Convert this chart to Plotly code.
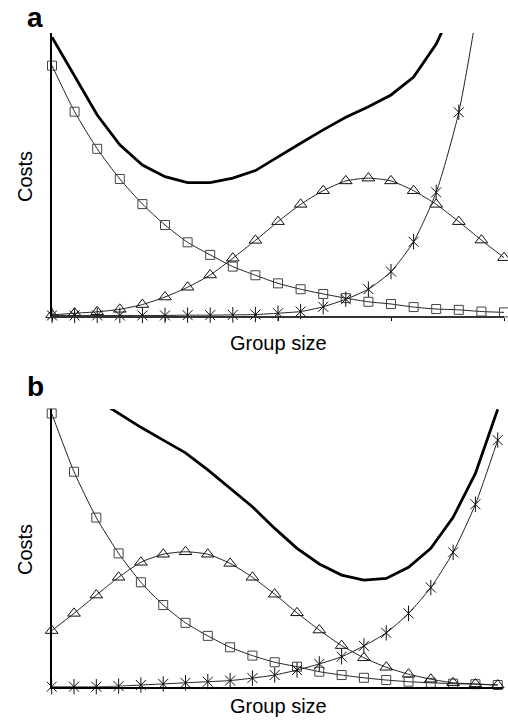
import plotly.graph_objects as go

group_size = list(range(21))

# Panel a
a_squares = [89.7, 73.2, 59.9, 49.1, 40.1, 32.6, 26.4, 21.9, 17.7, 14.6, 11.7,
             9.6, 7.9, 6.4, 5.1, 4.3, 3.2, 2.5, 2.2, 1.6, 1.3]
a_triangles = [0.4, 1.0, 1.5, 2.4, 4.1, 6.8, 10.3, 14.7, 20.7, 27.1, 33.8,
               40.0, 44.9, 48.4, 49.4, 48.4, 44.9, 40.0, 33.8, 27.2, 20.9]
a_asterisks = [0.2, 0.2, 0.2, 0.2, 0.2, 0.2, 0.3, 0.3, 0.4, 0.5, 1.0,
               1.6, 3.3, 6.0, 9.6, 15.9, 26.6, 44.3, 73.0, 120.0, 195.0]
a_total = [99.9, 85.8, 72.0, 61.3, 54.1, 49.9, 47.8, 47.8, 49.4, 52.1, 57.1,
           61.9, 66.7, 71.2, 75.0, 79.2, 85.6, 97.4, 115.0, None, None]

# Panel b
b_squares = [98.4, 77.4, 60.9, 48.0, 37.6, 29.4, 23.0, 18.3, 14.2, 11.2, 8.8,
             7.2, 5.4, 4.2, 3.2, 2.4, 1.8, 1.4, 1.1, 0.9, 0.6]
b_triangles = [20.2, 26.4, 33.0, 39.4, 44.8, 47.7, 48.6, 47.7, 44.4, 39.4, 33.3,
               26.6, 20.4, 14.8, 10.4, 7.0, 4.5, 2.7, 1.4, 1.0, 0.6]
b_asterisks = [0.0, 0.0, 0.0, 0.2, 0.6, 1.0, 1.4, 1.8, 2.2, 3.1, 4.2,
               6.0, 8.2, 10.8, 14.7, 19.4, 26.4, 35.7, 48.4, 65.7, 88.8]
b_total = [None, None, 103.5, 98.4, 93.4, 88.8, 84.2, 78.1, 71.5, 64.8, 57.0,
           49.8, 44.2, 40.2, 38.4, 39.0, 43.0, 49.8, 61.0, 76.8, 99.9]

fig = go.Figure()

def add_panel(xa, ya, sq, tri, ast, tot):
    common = dict(x=group_size, xaxis=xa, yaxis=ya, mode="lines+markers",
                  cliponaxis=False, showlegend=False,
                  line=dict(color="#222", width=1, shape="spline", smoothing=0.6))
    fig.add_trace(go.Scatter(y=sq, marker=dict(symbol="square-open", size=9,
                  color="#444", line=dict(width=1, color="#444")), **common))
    fig.add_trace(go.Scatter(y=tri, marker=dict(symbol="triangle-up-open", size=11,
                  color="#111", line=dict(width=1, color="#111")), **common))
    fig.add_trace(go.Scatter(y=ast, marker=dict(symbol="x-thin-open", size=10,
                  color="#111", line=dict(width=1, color="#111")), **common))
    # vertical stroke of the six-armed asterisk
    fig.add_trace(go.Scatter(x=group_size, y=ast, xaxis=xa, yaxis=ya, mode="markers",
                  cliponaxis=False, showlegend=False,
                  marker=dict(symbol="line-ns-open", size=11, color="#111",
                              line=dict(width=1, color="#111"))))
    fig.add_trace(go.Scatter(x=group_size, y=tot, xaxis=xa, yaxis=ya, mode="lines",
                  showlegend=False, connectgaps=False,
                  line=dict(color="black", width=2.8)))

add_panel("x", "y", a_squares, a_triangles, a_asterisks, a_total)
add_panel("x2", "y2", b_squares, b_triangles, b_asterisks, b_total)

axis_common = dict(showticklabels=False, showgrid=False, zeroline=False,
                   showline=True, linewidth=2)

fig.update_layout(
    width=508, height=722, autosize=False,
    margin=dict(l=0, r=0, t=0, b=0),
    paper_bgcolor="white", plot_bgcolor="white",
    hovermode=False,
    font=dict(family="Arial, Liberation Sans, sans-serif", color="black"),
    xaxis=dict(domain=[52/508, 504/508], range=[0, 20], anchor="y",
               ticks="outside", tickvals=[0, 5, 10, 15, 20], ticklen=3,
               tickcolor="black", tickwidth=1, linecolor="#333", **axis_common),
    yaxis=dict(domain=[1-316/722, 1-33/722], range=[0, 101.4], anchor="x",
               ticks="", linecolor="black", **axis_common),
    xaxis2=dict(domain=[51.7/508, 503.3/508], range=[0, 20.25], anchor="y2",
                ticks="", linecolor="black", **axis_common),
    yaxis2=dict(domain=[1-686.7/722, 1-409/722], range=[0, 100], anchor="x2",
                ticks="", linecolor="black", **axis_common),
)

def ann(text, x, y, size, bold=False, angle=0):
    fig.add_annotation(text=f"<b>{text}</b>" if bold else text,
                       x=x/508, y=1-y/722, xref="paper", yref="paper",
                       showarrow=False, textangle=angle,
                       xanchor="center", yanchor="middle",
                       font=dict(size=size, color="black",
                                 family="Arial, Liberation Sans, sans-serif"))

ann("a", 35, 18, 28, bold=True)
ann("b", 35, 386, 28, bold=True)
ann("Costs", 25, 177, 20, angle=-90)
ann("Costs", 25, 550, 20, angle=-90)
ann("Group size", 278, 343, 20)
ann("Group size", 278, 706, 20)

fig.write_html("out.html", config={"displayModeBar": False},
               post_script="document.body.style.margin='0';document.body.style.overflow='hidden';")
